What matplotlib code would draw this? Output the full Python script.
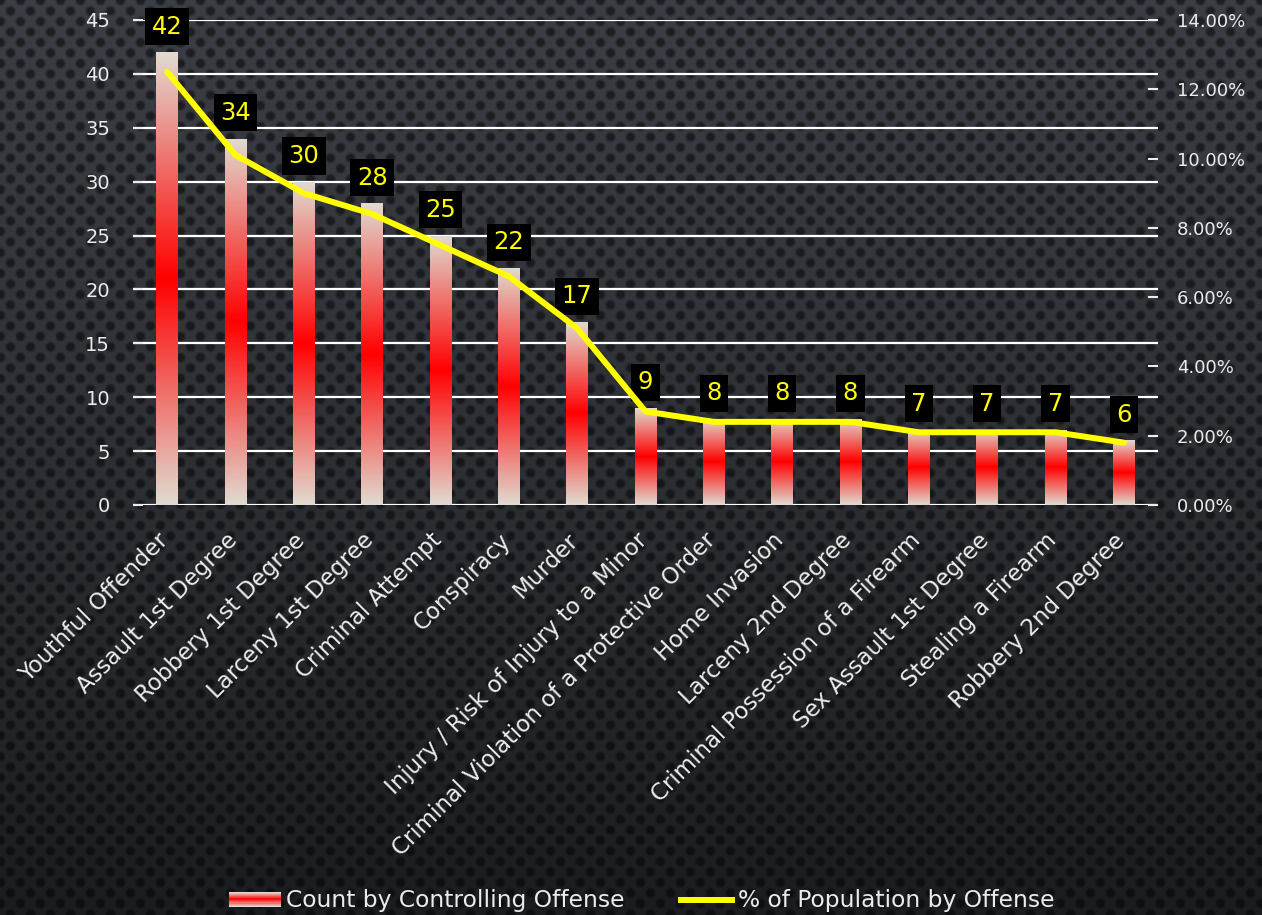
import numpy as np
import matplotlib
matplotlib.use("Agg")
import matplotlib.pyplot as plt
from matplotlib.patches import Rectangle
from matplotlib.legend_handler import HandlerBase
from matplotlib.lines import Line2D
from matplotlib.ticker import FuncFormatter, MultipleLocator
from matplotlib.transforms import ScaledTranslation

# ---------------- data ----------------
categories = ["Youthful Offender", "Assault 1st Degree", "Robbery 1st Degree",
              "Larceny 1st Degree", "Criminal Attempt", "Conspiracy", "Murder",
              "Injury / Risk of Injury to a Minor",
              "Criminal Violation of a Protective Order", "Home Invasion",
              "Larceny 2nd Degree", "Criminal Possession of a Firearm",
              "Sex Assault 1st Degree", "Stealing a Firearm", "Robbery 2nd Degree"]
counts = [42, 34, 30, 28, 25, 22, 17, 9, 8, 8, 8, 7, 7, 7, 6]
pct = [12.5, 10.1, 9.0, 8.4, 7.5, 6.6, 5.1, 2.7, 2.4, 2.4, 2.4, 2.1, 2.1, 2.1, 1.8]
bar_label = "Count by Controlling Offense"
line_label = "% of Population by Offense"

FONT = ["DejaVu Sans"]
plt.rcParams['font.family'] = FONT
TXT = "#ececec"
LIGHT = np.array([0.88, 0.86, 0.82])
RED = np.array([1.0, 0.0, 0.0])

W, H = 1262, 915
fig = plt.figure(figsize=(W / 100, H / 100), dpi=100)
fig.patch.set_facecolor("#1e1f22")

# ---------------- background texture ----------------
yy, xx = np.mgrid[0:H, 0:W].astype(float)
def lat(ox, oy, px=20.0, py=21.0):
    dx = ((xx - ox) % px) - px / 2
    dy = ((yy - oy) % py) - py / 2
    return np.hypot(dx, dy)
d = np.minimum(lat(0, 0), lat(10, 10.5))
dot = np.clip((6.0 - d) / 3.0, 0, 1)
b = 0.24 - 0.13 * (yy / H) ** 1.2
b = b * (1 - 0.5 * dot)
tex = np.dstack([b * 0.95, b * 1.0, b * 1.1])
tex = np.clip(tex, 0, 1)
fig.figimage(tex, 0, 0, origin="upper", zorder=0)

# ---------------- axes ----------------
ax = fig.add_axes([133 / W, 1 - 505 / H, (1158 - 133) / W, (505 - 20) / H])
ax.set_facecolor("none")
ax.set_zorder(1)
x = np.arange(len(categories))
bars = ax.bar(x, counts, width=0.32, color="none", edgecolor="none", zorder=2)

def grad_colors(n):
    t = np.linspace(0, 1, n)
    w = 1 - np.abs(2 * t - 1)  # 0 at ends, 1 at middle
    return (1 - w)[:, None] * LIGHT + w[:, None] * RED

gimg = grad_colors(256)[:, None, :]
for bar in bars:
    x0, y0 = bar.get_x(), bar.get_y()
    w_, h_ = bar.get_width(), bar.get_height()
    im = ax.imshow(gimg, extent=[x0, x0 + w_, y0, y0 + h_], aspect="auto",
                   origin="lower", zorder=2, interpolation="bilinear")
    im.set_clip_path(bar)

ax.set_xlim(-0.5, len(categories) - 0.5)
ax.set_ylim(0, 45)
ax.yaxis.set_major_locator(MultipleLocator(5))
ax.yaxis.grid(True, color="white", lw=1.6, zorder=1)
ax.set_axisbelow(True)
for s in ax.spines.values():
    s.set_visible(False)
ax.tick_params(axis="y", colors=TXT, labelsize=14, direction="in", length=7,
               width=1.5, pad=16.5)
ax.tick_params(axis="x", length=0, pad=23)
ax.set_xticks(x)
ax.set_xticklabels(categories, rotation=45, ha="right", va="center",
                   rotation_mode="anchor", color=TXT, fontsize=16.5)
off = ScaledTranslation(-2 / 100, 0, fig.dpi_scale_trans)
for lab in ax.get_xticklabels():
    lab.set_transform(lab.get_transform() + off)

for xi, v in zip(x, counts):
    ax.annotate(str(v), xy=(xi, v), xytext=(0, 18.5), textcoords="offset points",
                ha="center", va="center", color="#ffff00", fontsize=17.5,
                bbox=dict(boxstyle="square,pad=0.27", fc="black", ec="none"),
                zorder=5)

ax2 = ax.twinx()
ax2.set_zorder(2)
ax2.set_facecolor("none")
ax2.plot(x, pct, color="#ffff00", lw=4.3, solid_capstyle="round",
         solid_joinstyle="round", zorder=6)
ax2.set_ylim(0, 14)
ax2.yaxis.set_major_locator(MultipleLocator(2))
ax2.yaxis.set_major_formatter(FuncFormatter(lambda v, p: f"{v:.2f}%"))
for s in ax2.spines.values():
    s.set_visible(False)
ax2.tick_params(axis="y", colors=TXT, labelsize=13, direction="in", length=7,
                width=1.5, pad=13.5)

# ---------------- legend ----------------
class GradHandler(HandlerBase):
    def create_artists(self, legend, orig_handle, xdescent, ydescent, width,
                       height, fontsize, trans):
        n = 14
        cols = grad_colors(n)
        arts = []
        for i in range(n):
            r = Rectangle((-xdescent, -ydescent + i * height / n), width,
                          height / n + 0.01, fc=cols[i], ec="none",
                          transform=trans)
            arts.append(r)
        return arts

bar_handle = Rectangle((0, 0), 1, 1)
line_handle = Line2D([0], [0], color="#ffff00", lw=4.3)
leg = fig.legend([bar_handle, line_handle], [bar_label, line_label],
                 handler_map={Rectangle: GradHandler()},
                 loc="center", bbox_to_anchor=(0.5087, 1 - 901 / H), ncol=2,
                 frameon=False, fontsize=16.8, labelcolor=TXT,
                 handlelength=2.2, handleheight=0.6, handletextpad=0.25,
                 columnspacing=2.4)

fig.savefig("out.png", dpi=100, facecolor=fig.get_facecolor())
